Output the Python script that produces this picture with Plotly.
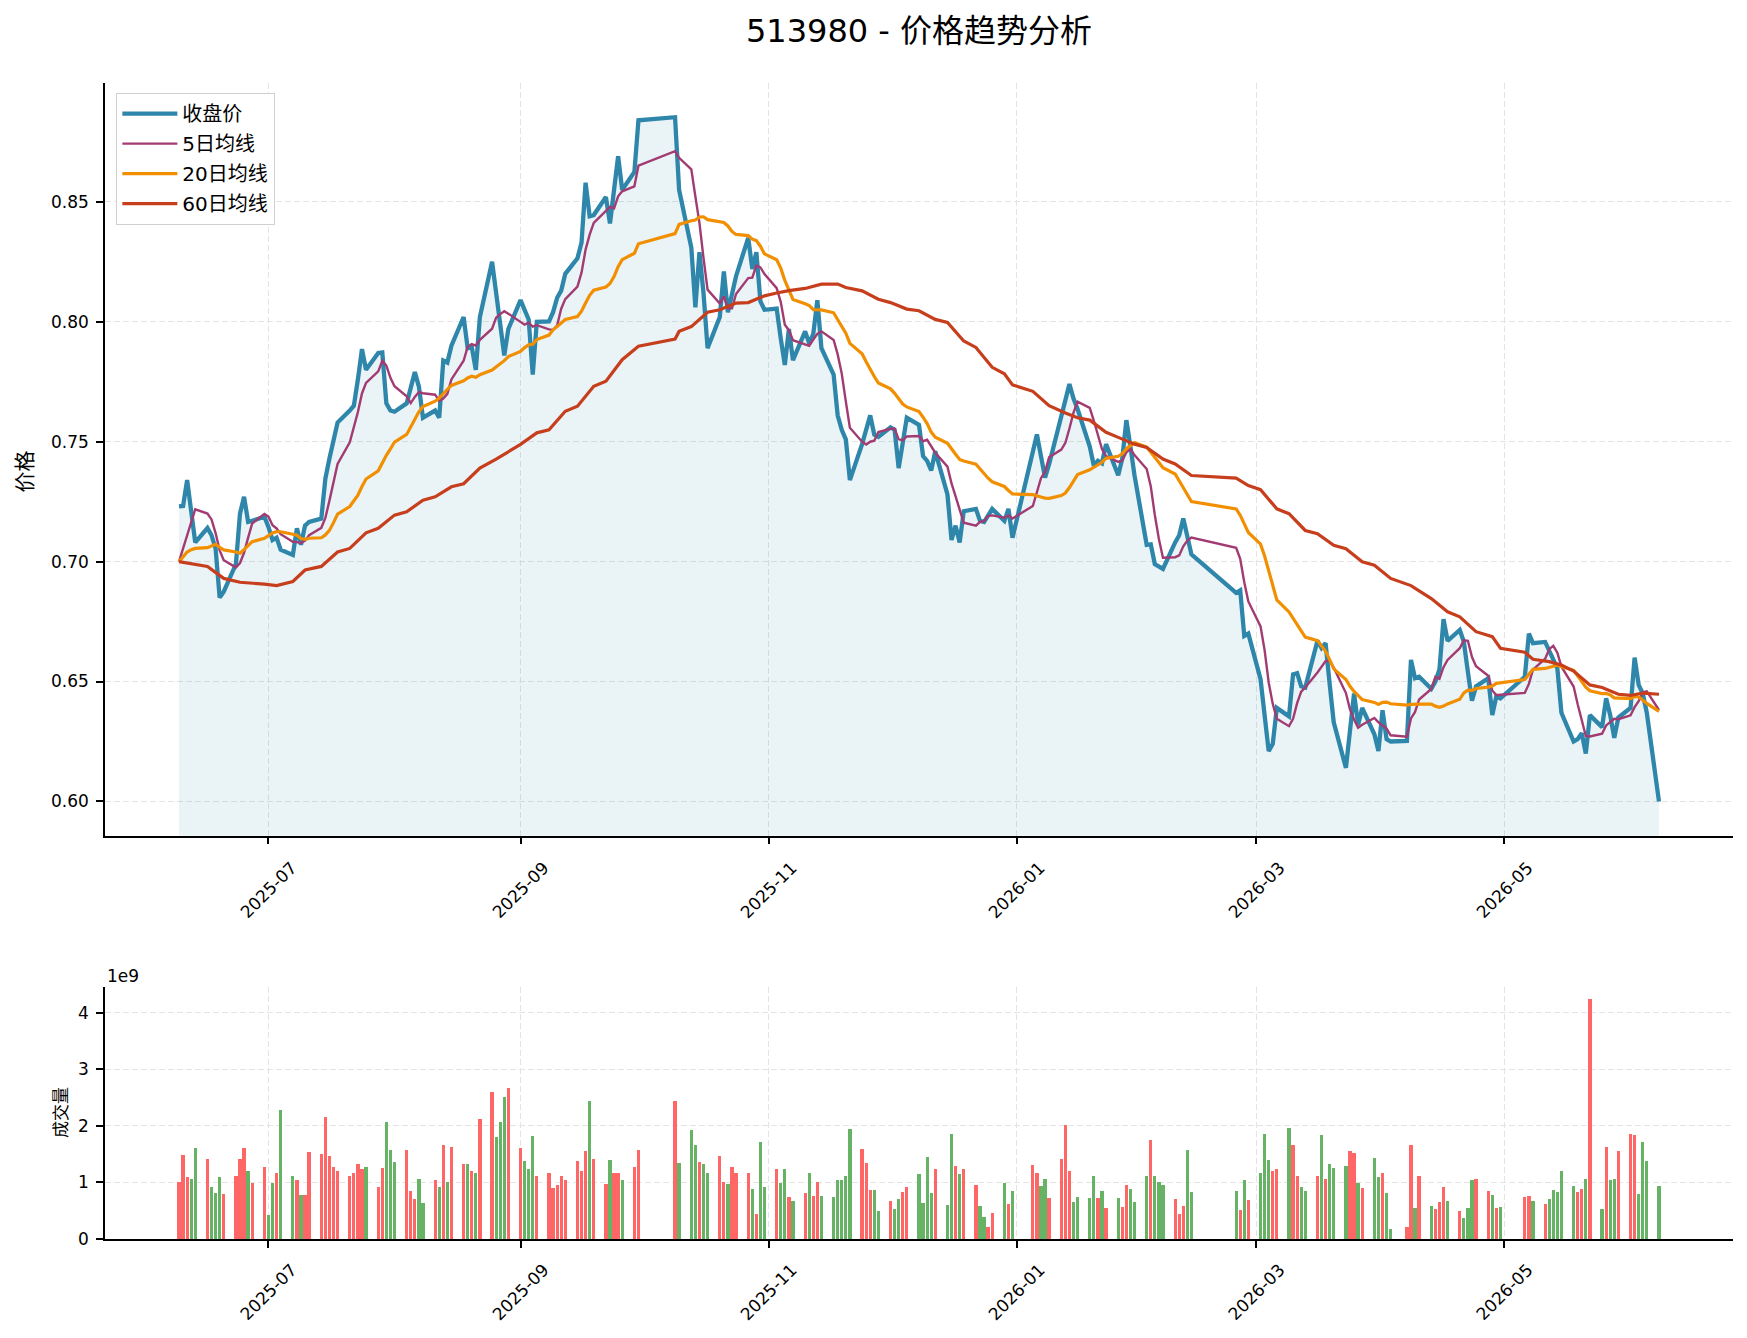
import pandas as pd
import plotly.graph_objects as go

# ---------------- data ----------------
holidays = ["2025-10-01", "2025-10-02", "2025-10-03", "2025-10-06", "2025-10-07", "2025-10-08",
            "2026-01-01", "2026-01-02",
            "2026-02-16", "2026-02-17", "2026-02-18", "2026-02-19", "2026-02-20", "2026-02-23",
            "2026-04-06", "2026-05-01", "2026-05-04", "2026-05-05"]
trade_dates = pd.bdate_range("2025-06-09", "2026-06-08")
trade_dates = trade_dates[~trade_dates.isin(pd.to_datetime(holidays))]

close = [
    0.723, 0.7232, 0.734, 0.721, 0.708,
    0.714, 0.711, 0.7055, 0.685, 0.6875,
    0.699, 0.720, 0.727, 0.7166, 0.717,
    0.7187, 0.7145, 0.709, 0.710, 0.705,
    0.7028, 0.7139, 0.707, 0.715, 0.7166,
    0.718, 0.7346, 0.743, 0.750, 0.758,
    0.763, 0.765, 0.776, 0.7886, 0.780,
    0.787, 0.7872, 0.766, 0.763, 0.7625,
    0.766, 0.773, 0.779, 0.773, 0.760,
    0.763, 0.760, 0.7838, 0.783, 0.790,
    0.802, 0.789, 0.7895, 0.780, 0.802,
    0.825, 0.812, 0.797, 0.786, 0.797,
    0.809, 0.805, 0.801, 0.778, 0.800,
    0.8002, 0.804, 0.810, 0.813, 0.820,
    0.8265, 0.833, 0.858, 0.844, 0.8445,
    0.852, 0.841, 0.855, 0.869, 0.855,
    0.8625, 0.884,
    0.8853, 0.855,
    0.831, 0.806, 0.829, 0.812, 0.789,
    0.802, 0.821, 0.804, 0.812, 0.819,
    0.835, 0.822, 0.829, 0.8085, 0.805,
    0.8055, 0.793, 0.782, 0.797, 0.784,
    0.796, 0.791, 0.795, 0.809, 0.789,
    0.778, 0.761, 0.755, 0.751, 0.734,
    0.749, 0.755, 0.761, 0.753, 0.752,
    0.756, 0.755, 0.739, 0.751, 0.760,
    0.757, 0.744, 0.742, 0.738, 0.746,
    0.728, 0.709, 0.715, 0.708, 0.721,
    0.722, 0.717, 0.7165, 0.719, 0.722,
    0.717, 0.722, 0.710,
    0.745, 0.753, 0.744, 0.735, 0.7406,
    0.761, 0.767, 0.774, 0.768, 0.7636,
    0.748, 0.740, 0.742, 0.741, 0.749,
    0.736, 0.743, 0.759, 0.748, 0.736,
    0.707, 0.7072, 0.699, 0.698, 0.697,
    0.708, 0.711, 0.718, 0.710, 0.703,
    0.687, 0.688, 0.669, 0.670,
    0.651, 0.6375, 0.621, 0.624, 0.639,
    0.6355, 0.653, 0.6535, 0.648, 0.6475,
    0.667, 0.664, 0.666, 0.649, 0.633,
    0.614, 0.630, 0.645, 0.632, 0.639,
    0.628, 0.621, 0.638, 0.626, 0.625,
    0.6252, 0.659, 0.6514, 0.652,
    0.647, 0.650, 0.655, 0.676, 0.667,
    0.6715, 0.6666, 0.654, 0.642, 0.648,
    0.6514, 0.636, 0.644, 0.643,
    0.652, 0.670, 0.666,
    0.6665, 0.663, 0.659, 0.6555, 0.637,
    0.625, 0.626, 0.6285, 0.620, 0.636,
    0.631, 0.643, 0.636, 0.6265, 0.635,
    0.639, 0.660, 0.6486, 0.645, 0.637,
    0.600,
]

volume_e9 = [
    1.016, 1.477, 1.087, 1.069, 1.600,
    1.420, 0.927, 0.821, 1.087, 0.803,
    1.122, 1.420, 1.600, 1.210, 0.998,
    1.280, 0.431, 0.998, 1.175, 2.274,
    1.122, 1.051, 0.786, 0.786, 1.530,
    1.494, 2.150, 1.459, 1.264, 1.193,
    1.105, 1.158, 1.317, 1.229, 1.264,
    0.927, 1.246, 2.061, 1.565, 1.353,
    1.565, 0.856, 0.715, 1.069, 0.644,
    1.051, 0.927, 1.654, 1.016, 1.618,
    1.317, 1.317, 1.193, 1.175, 2.115,
    2.593, 1.796, 2.061, 2.504, 2.664,
    1.600, 1.370, 1.229, 1.813, 1.122,
    1.158, 0.910, 0.963, 1.122, 1.034,
    1.370, 1.210, 1.548, 2.434, 1.420,
    0.980, 1.388, 1.175, 1.158, 1.034,
    1.280, 1.565,
    2.434, 1.335,
    1.920, 1.654, 1.353, 1.317, 1.175,
    1.459, 1.016, 0.980, 1.264, 1.158,
    1.158, 0.892, 0.449, 1.707, 0.927,
    1.229, 0.998, 1.229, 0.750, 0.679,
    0.821, 1.158, 0.768, 1.016, 0.768,
    0.750, 1.034, 1.051, 1.122, 1.937,
    1.583, 1.335, 0.874, 0.874, 0.502,
    0.679, 0.537, 0.715, 0.839, 0.927,
    1.140, 0.644, 1.441, 0.821, 1.229,
    0.608, 1.849, 1.282, 1.140, 1.229,
    0.963, 0.591, 0.396, 0.219, 0.467,
    0.998, 0.626, 0.856,
    1.300, 1.175, 0.945, 1.069, 0.732,
    1.406, 2.008, 1.193, 0.662, 0.750,
    0.732, 1.122, 0.732, 0.856, 0.555,
    0.732, 0.573, 0.963, 0.892, 0.662,
    1.122, 1.742, 1.122, 1.016, 0.963,
    0.715, 0.449, 0.591, 1.565, 0.839,
    0.856, 0.520, 1.034, 0.697,
    1.175, 1.849, 1.388, 1.193, 1.229,
    1.955, 1.654, 1.105, 0.927, 0.856,
    1.122, 1.831, 1.069, 1.317, 1.246,
    1.282, 1.548, 1.512, 0.998, 0.910,
    1.424, 1.087, 1.175, 0.821, 0.183,
    0.219, 1.654, 0.555, 1.105,
    0.591, 0.538, 0.662, 0.927, 0.679,
    0.502, 0.378, 0.555, 1.051, 1.069,
    0.856, 0.786, 0.555, 0.573,
    0.750, 0.768, 0.679,
    0.626, 0.715, 0.874, 0.839, 1.193,
    0.945, 0.839, 0.892, 1.069, 4.241,
    0.538, 1.618, 1.034, 1.069, 1.548,
    1.849, 1.831, 0.803, 1.707, 1.370,
    0.945,
]

# moving-average values shown before a full window is available
ma5_warmup = [0.700, 0.7055, 0.711, 0.717]
ma20_warmup = [0.700, 0.702, 0.704, 0.705, 0.7055, 0.7058, 0.7065, 0.7072, 0.706, 0.7049,
               0.704, 0.7035, 0.705, 0.7065, 0.7083, 0.7097, 0.711, 0.712, 0.7125]

ma60_dates = [
    "2025-06-09", "2025-06-16", "2025-06-20", "2025-06-24", "2025-06-30", "2025-07-03", "2025-07-07",
    "2025-07-10", "2025-07-14", "2025-07-18", "2025-07-21", "2025-07-25", "2025-07-28", "2025-08-01",
    "2025-08-04", "2025-08-08", "2025-08-11", "2025-08-15", "2025-08-18", "2025-08-22", "2025-08-26",
    "2025-09-01", "2025-09-05", "2025-09-08", "2025-09-12", "2025-09-15", "2025-09-19", "2025-09-22",
    "2025-09-26", "2025-09-30", "2025-10-09", "2025-10-10", "2025-10-13", "2025-10-17", "2025-10-20",
    "2025-10-24", "2025-10-27", "2025-10-31", "2025-11-03", "2025-11-06", "2025-11-10", "2025-11-14",
    "2025-11-18", "2025-11-20", "2025-11-24", "2025-11-28", "2025-12-01", "2025-12-05", "2025-12-08",
    "2025-12-12", "2025-12-15", "2025-12-19", "2025-12-22", "2025-12-26", "2025-12-29", "2025-12-31",
    "2026-01-05", "2026-01-09", "2026-01-13", "2026-01-16", "2026-01-19", "2026-01-23", "2026-01-26",
    "2026-01-30", "2026-02-02", "2026-02-06", "2026-02-09", "2026-02-13", "2026-02-24", "2026-02-27",
    "2026-03-02", "2026-03-06", "2026-03-09", "2026-03-13", "2026-03-16", "2026-03-20", "2026-03-23",
    "2026-03-27", "2026-03-30", "2026-04-03", "2026-04-08", "2026-04-13", "2026-04-17", "2026-04-20",
    "2026-04-24", "2026-04-28", "2026-04-30", "2026-05-06", "2026-05-08", "2026-05-12", "2026-05-15",
    "2026-05-18", "2026-05-22", "2026-05-25", "2026-05-29", "2026-06-01", "2026-06-04", "2026-06-08",
]
ma60_values = [
    0.700, 0.698, 0.693, 0.6914, 0.6906, 0.690, 0.6917,
    0.6965, 0.698, 0.704, 0.7055, 0.712, 0.7139, 0.7194,
    0.7208, 0.7256, 0.727, 0.7312, 0.7325, 0.739, 0.7427,
    0.7489, 0.7537, 0.755, 0.7627, 0.7648, 0.7731, 0.7752,
    0.7842, 0.7898, 0.7928, 0.796, 0.798, 0.804, 0.805,
    0.8078, 0.808, 0.8108, 0.812, 0.813, 0.8139, 0.8157,
    0.8157, 0.8143, 0.8129, 0.8094, 0.808, 0.8053, 0.8046,
    0.801, 0.7997, 0.792, 0.7893, 0.781, 0.7783, 0.7737,
    0.771, 0.765, 0.762, 0.760, 0.759, 0.7539, 0.7518,
    0.749, 0.7476, 0.7428, 0.7407, 0.7359, 0.7348, 0.7317,
    0.730, 0.722, 0.720, 0.713, 0.7116, 0.7068, 0.7054,
    0.6999, 0.6985, 0.693, 0.690, 0.6846, 0.6791, 0.677,
    0.6708, 0.6687, 0.6639, 0.6622, 0.6593, 0.6583, 0.6569,
    0.6544, 0.6486, 0.6475, 0.6447, 0.6442, 0.6452, 0.6447,
]

tick_dates = ["2025-07-01", "2025-09-01", "2025-11-01", "2026-01-01", "2026-03-01", "2026-05-01"]
tick_labels = ["2025-07", "2025-09", "2025-11", "2026-01", "2026-03", "2026-05"]
price_ticks = [0.60, 0.65, 0.70, 0.75, 0.80, 0.85]
volume_ticks = [0, 1, 2, 3, 4]

# ---------------- derived ----------------
s = pd.Series(close, index=trade_dates)
ma5 = s.rolling(5).mean()
ma5.iloc[:len(ma5_warmup)] = ma5_warmup
ma20 = s.rolling(20).mean()
ma20.iloc[:len(ma20_warmup)] = ma20_warmup
up = (s.diff().fillna(0) >= 0).tolist()
bar_colors = ["#FF6666" if u else "#66B366" for u in up]

span = trade_dates[-1] - trade_dates[0]
x_range = [trade_dates[0] - 0.05 * span, trade_dates[-1] + 0.05 * span]
all_vals = list(close) + list(ma5) + list(ma20) + list(ma60_values)
lo, hi = min(all_vals), max(all_vals)
y_range = [lo - 0.05 * (hi - lo), hi + 0.05 * (hi - lo)]
v_range = [0, max(volume_e9) * 1.05]

FONT = "DejaVu Sans, Noto Sans CJK SC, sans-serif"
C_CLOSE, C_MA5, C_MA20, C_MA60 = "#2E86AB", "#A23B72", "#F18F01", "#C73E1D"

fig = go.Figure()
fig.add_trace(go.Scatter(x=trade_dates, y=close, mode="none", fill="tozeroy",
                         fillcolor="rgba(46,134,171,0.10)", showlegend=False, hoverinfo="skip",
                         xaxis="x", yaxis="y"))
fig.add_trace(go.Scatter(x=trade_dates, y=close, mode="lines", name="收盘价", legendgroup="a",
                         line=dict(color=C_CLOSE, width=4.3), xaxis="x", yaxis="y"))
fig.add_trace(go.Scatter(x=trade_dates, y=ma5, mode="lines", name="5日均线", legendgroup="b",
                         line=dict(color=C_MA5, width=2.4), xaxis="x", yaxis="y"))
fig.add_trace(go.Scatter(x=trade_dates, y=ma20, mode="lines", name="20日均线", legendgroup="c",
                         line=dict(color=C_MA20, width=3.2), xaxis="x", yaxis="y"))
fig.add_trace(go.Scatter(x=pd.to_datetime(ma60_dates), y=ma60_values, mode="lines", name="60日均线",
                         legendgroup="d", line=dict(color=C_MA60, width=3.2), xaxis="x", yaxis="y"))
fig.add_trace(go.Bar(x=trade_dates, y=volume_e9, marker=dict(color=bar_colors, line=dict(width=0)),
                     width=0.8 * 86400000, showlegend=False, xaxis="x2", yaxis="y2"))

axis_common = dict(showline=True, linecolor="black", linewidth=1.6, mirror=False,
                   ticks="outside", ticklen=7, tickwidth=1.6, tickcolor="black",
                   showgrid=True, gridcolor="#e4e4e4", gridwidth=1.3, griddash="6px,3px",
                   zeroline=False, tickfont=dict(family=FONT, size=17, color="black"))

PRICE_DOM = [0.3489, 1.0]
VOL_DOM = [0.0, 0.218]

fig.update_layout(
    width=1747, height=1338,
    margin=dict(l=105, r=14, t=83, b=99),
    paper_bgcolor="white", plot_bgcolor="white",
    font=dict(family=FONT, color="black"),
    title=dict(text="513980 - 价格趋势分析", x=0.5, xref="paper", xanchor="center",
               y=1 - 31 / 1338, yref="container", yanchor="middle",
               font=dict(family=FONT, size=32, color="black")),
    xaxis=dict(domain=[0, 1], anchor="y", type="date", range=x_range,
               tickvals=tick_dates, showticklabels=False, **axis_common),
    yaxis=dict(domain=PRICE_DOM, anchor="x", range=y_range, tickvals=price_ticks,
               tickformat=".2f", ticklabelstandoff=4, **axis_common),
    xaxis2=dict(domain=[0, 1], anchor="y2", type="date", range=x_range, matches="x",
                tickvals=tick_dates, showticklabels=False, **axis_common),
    yaxis2=dict(domain=VOL_DOM, anchor="x2", range=v_range, tickvals=volume_ticks,
                ticklabelstandoff=4, **axis_common),
    legend=dict(x=0.0068, y=0.9915, xanchor="left", yanchor="top", bgcolor="white",
                bordercolor="#d0d0d0", borderwidth=1.3, itemwidth=55, tracegroupgap=1,
                font=dict(family=FONT, size=20, color="black")),
    bargap=0,
    showlegend=True,
)

annotations = []
for d, lab in zip(tick_dates, tick_labels):
    for ypos in (0.3322, -0.0156):
        annotations.append(dict(x=d, xref="x", y=ypos, yref="paper", text=lab, showarrow=False,
                                textangle=-45, xanchor="center", yanchor="top",
                                font=dict(family=FONT, size=17, color="black")))
annotations.append(dict(x=-0.0491, xref="paper", y=0.664, yref="paper", text="价格", showarrow=False,
                        textangle=-90, xanchor="center", yanchor="middle",
                        font=dict(family=FONT, size=21, color="black")))
annotations.append(dict(x=-0.027, xref="paper", y=0.109, yref="paper", text="成交量", showarrow=False,
                        textangle=-90, xanchor="center", yanchor="middle",
                        font=dict(family=FONT, size=17, color="black")))
annotations.append(dict(x=0.0, xref="paper", y=0.2275, yref="paper", text="1e9", showarrow=False,
                        xanchor="left", yanchor="middle",
                        font=dict(family=FONT, size=17, color="black")))
fig.update_layout(annotations=annotations)

fig.write_html("out.html")
